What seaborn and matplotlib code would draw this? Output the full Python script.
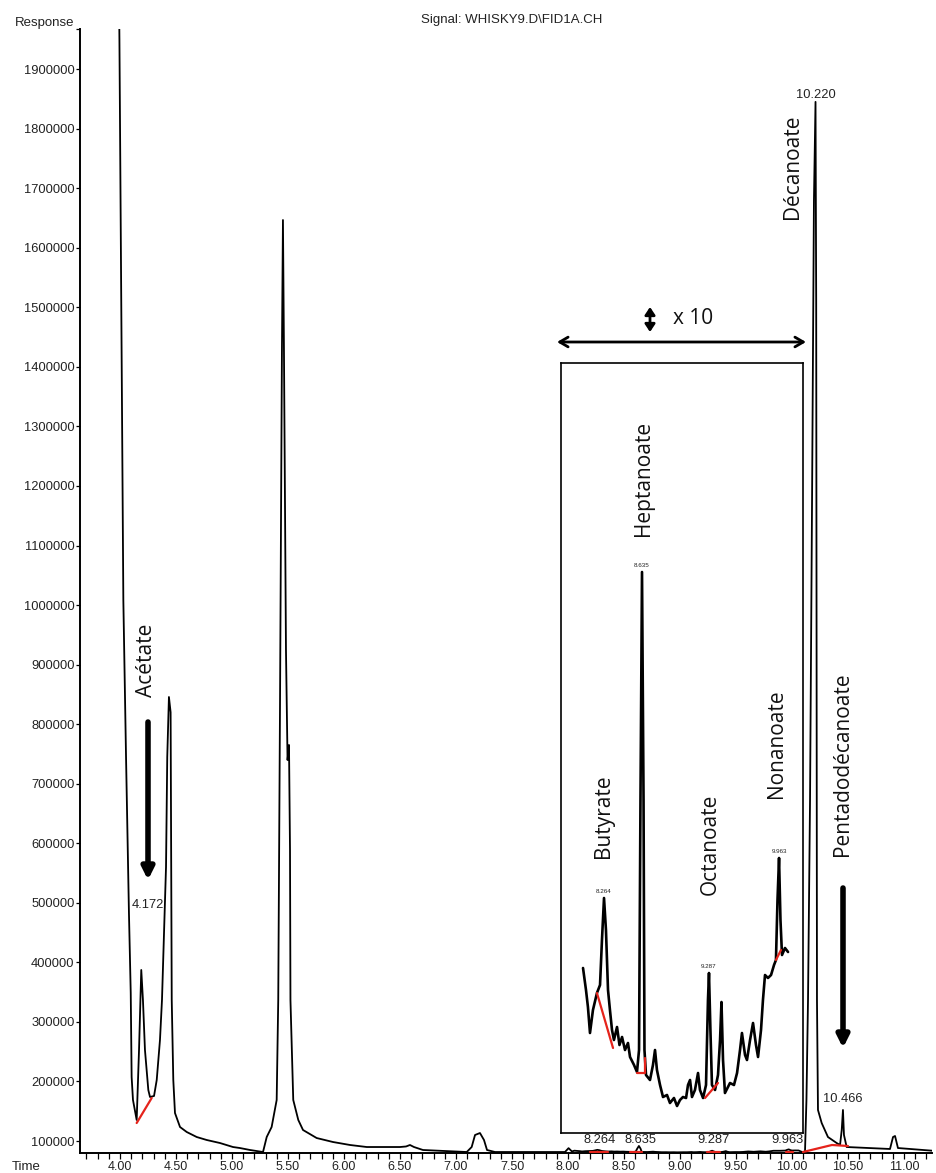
import matplotlib
matplotlib.use("Agg")
import matplotlib.pyplot as plt
import numpy as np
import pandas as pd
import seaborn as sns
from matplotlib.ticker import MultipleLocator, FixedLocator, FormatStrFormatter, FuncFormatter

# ---------------- data (retention time in min, detector response) ----------------
# part of the chromatogram before the magnified window
time_a = [3.985, 3.995, 4.005, 4.030, 4.054, 4.080, 4.096, 4.104, 4.116, 4.149,
          4.170, 4.190, 4.205, 4.223, 4.253, 4.268, 4.304, 4.328, 4.357, 4.375,
          4.402, 4.411, 4.422, 4.437, 4.452, 4.462, 4.476, 4.491, 4.536, 4.596,
          4.685, 4.774, 4.893, 5.009, 5.071, 5.161, 5.277, 5.310, 5.354, 5.399,
          5.413, 5.429, 5.446, 5.455, 5.464, 5.482, 5.496, 5.509, 5.518, 5.522,
          5.547, 5.592, 5.634, 5.756, 5.902, 6.054, 6.203, 6.500, 6.554, 6.589,
          6.625, 6.705, 7.096, 7.140, 7.170, 7.214, 7.250, 7.277, 7.348, 7.973,
          8.005, 8.035]
resp_a = [2150000, 1950000, 1680000, 1008000, 744900, 482900, 348500, 207500, 168900, 135300,
          252800, 387200, 336800, 252800, 185600, 173900, 175600, 202400, 269600, 336800,
          504700, 560100, 744900, 845600, 820000, 336800, 202400, 147000, 123500, 115100,
          106700, 101700, 96600, 89900, 88200, 84900, 81500, 106700, 123500, 168900,
          336800, 840600, 1428300, 1646600, 1428300, 924500, 739800, 765000, 588700, 336800,
          168900, 135300, 118500, 105000, 98300, 93300, 89900, 89900, 90800, 93300,
          89900, 84900, 81500, 89900, 110100, 113400, 101700, 84900, 81500, 81500,
          88000, 82500]

# magnified window 8.05 - 10.06 min (shown in the inset)
time_zoom = [8.057, 8.086, 8.105, 8.125, 8.154, 8.193, 8.223, 8.242, 8.262, 8.281,
             8.301, 8.320, 8.340, 8.359, 8.389, 8.413, 8.438, 8.467, 8.496, 8.516,
             8.555, 8.584, 8.604, 8.618, 8.633, 8.648, 8.657, 8.672, 8.711, 8.740,
             8.760, 8.779, 8.809, 8.838, 8.877, 8.906, 8.945, 8.975, 9.004, 9.033,
             9.063, 9.082, 9.102, 9.121, 9.150, 9.180, 9.199, 9.229, 9.258, 9.277,
             9.287, 9.301, 9.316, 9.346, 9.375, 9.395, 9.409, 9.424, 9.443, 9.492,
             9.531, 9.561, 9.590, 9.609, 9.639, 9.658, 9.688, 9.717, 9.746, 9.766,
             9.795, 9.814, 9.834, 9.863, 9.893, 9.922, 9.941, 9.956, 9.971, 9.985,
             10.000, 10.029, 10.059]
resp_zoom = [83740, 83300, 82960, 82440, 82900, 83240, 83400, 84300, 85140, 84500,
             83300, 82900, 82500, 82300, 82560, 82200, 82360, 82100, 82240, 81960,
             81800, 81660, 82100, 87100, 91660, 87100, 82100, 81600, 81500, 81800,
             82100, 81700, 81400, 81160, 81200, 81040, 81140, 80980, 81100, 81160,
             81140, 81400, 81500, 81160, 81300, 81640, 81300, 81140, 81400, 83100,
             83640, 82500, 81400, 81300, 81600, 82300, 83060, 81900, 81240, 81440,
             81400, 81640, 82100, 82440, 82000, 81900, 82300, 82640, 82200, 81960,
             82500, 83100, 83600, 83540, 83600, 83800, 83900, 85100, 85940, 84700,
             84000, 84140, 84060]

# part after the magnified window
time_b = [10.090, 10.116, 10.129, 10.143, 10.161, 10.179, 10.196, 10.210, 10.216, 10.220,
          10.223, 10.232, 10.265, 10.321, 10.399, 10.429, 10.444, 10.455, 10.464, 10.488,
          10.696, 10.875, 10.902, 10.920, 10.946, 11.286]
resp_b = [81500, 81500, 168900, 336800, 672600, 1176400, 1680200, 1845000, 1512300, 840600,
          336800, 152100, 130200, 106700, 96600, 93300, 118500, 152100, 110100, 89900,
          88200, 86600, 106700, 108400, 88200, 83200]

# integration baselines (red)
base_main_t = [[4.149, 4.283], [8.196, 8.357], [8.554, 8.660], [9.241, 9.357],
               [9.946, 10.009], [10.098, 10.357, 10.500]]
base_main_v = [[130200, 172200], [81500, 81500], [81500, 81500], [81500, 81500],
               [81500, 81500], [81500, 93300, 91600]]
base_zoom_t = [[8.193, 8.350], [8.584, 8.662, 8.662], [9.248, 9.375], [9.941, 9.990]]
base_zoom_v = [[83240, 82140], [81640, 81640, 81940], [81140, 81440], [83900, 84100]]

# labelled peaks
main_peak_labels = ["4.172", "10.220", "10.466"]
window_peak_labels = ["8.264", "8.635", "9.287", "9.963"]
window_peak_t = [8.262, 8.633, 9.287, 9.971]
window_peak_v = [85140, 91660, 83640, 85940]
compounds = ["Acétate", "Butyrate", "Heptanoate", "Octanoate", "Nonanoate",
             "Décanoate", "Pentadodécanoate"]

x_ticks = [4.0, 4.5, 5.0, 5.5, 6.0, 6.5, 7.0, 7.5, 8.0, 8.5, 9.0, 9.5, 10.0, 10.5, 11.0]
y_ticks = list(range(100000, 2000000, 100000))
y_top = 1967380
y_bottom = 79850

# ---------------- figure ----------------
sns.set_theme(style="white")
plt.rcParams["font.family"] = ["Liberation Sans", "DejaVu Sans"]

W, H = 936, 1173
fig = plt.figure(figsize=(W / 100, H / 100), dpi=100)
fig.patch.set_facecolor("white")


def fx(x):
    return x / W


def fy(y):
    return 1 - y / H


ax = fig.add_axes([fx(80), fy(1153), fx(932) - fx(80), fy(29) - fy(1153)])
ax.set_facecolor("white")

full = pd.DataFrame({"time": time_a + time_zoom + time_b,
                     "resp": resp_a + resp_zoom + resp_b})
sns.lineplot(data=full, x="time", y="resp", ax=ax, sort=False, estimator=None,
             color="black", lw=1.3)
for tt, vv in zip(base_main_t, base_main_v):
    ax.plot(tt, vv, color="#e5231b", lw=1.6, zorder=3)

ax.set_xlim(3.643, 11.25)
ax.set_ylim(y_bottom, y_top)
ax.set_xlabel("")
ax.set_ylabel("")
ax.xaxis.set_major_locator(FixedLocator(x_ticks))
ax.xaxis.set_minor_locator(MultipleLocator(0.1))
ax.xaxis.set_major_formatter(FormatStrFormatter("%.2f"))
ax.yaxis.set_major_locator(FixedLocator(y_ticks + [y_top]))
ax.yaxis.set_major_formatter(FuncFormatter(lambda v, p: "" if v > 1950000 else "%d" % v))
ax.tick_params(axis="x", which="both", direction="out", length=4.5, width=0.9,
               color="black", labelsize=9, labelcolor="#222222", pad=1.5, bottom=True)
ax.tick_params(axis="y", which="major", direction="out", length=3, width=0.9,
               color="black", labelsize=9.3, labelcolor="#222222", pad=1, left=True)
for s in ["top", "right"]:
    ax.spines[s].set_visible(False)
for s in ["left", "bottom"]:
    ax.spines[s].set_color("black")
    ax.spines[s].set_linewidth(1.4)

# peak labels on main trace
ax.text(4.25, 496300, main_peak_labels[0], ha="center", va="center", fontsize=9.3, color="#222")
ax.text(10.21, 1856500, main_peak_labels[1], ha="center", va="center", fontsize=9.3, color="#222")
ax.text(10.455, 170500, main_peak_labels[2], ha="center", va="center", fontsize=9.3, color="#222")
for lab, t in zip(window_peak_labels, [8.286, 8.643, 9.295, 9.964]):
    ax.text(t, 92000, lab, ha="center", va="bottom", fontsize=9.3, color="#222")

# axis captions and title
fig.text(fx(74), fy(26), "Response", ha="right", va="baseline", fontsize=9.5, color="#222")
fig.text(fx(12), fy(1167), "Time", ha="left", va="center", fontsize=9.5, color="#222")
fig.text(fx(512), fy(20), "Signal: WHISKY9.D\\FID1A.CH", ha="center", va="center",
         fontsize=9.5, color="#222")

# ---------------- inset (magnified window) ----------------
axi = fig.add_axes([fx(561), fy(1133), fx(803) - fx(561), fy(363) - fy(1133)])
axi.set_facecolor("white")
zoom_df = pd.DataFrame({"time": time_zoom, "resp": resp_zoom})
sns.lineplot(data=zoom_df, x="time", y="resp", ax=axi, sort=False, estimator=None,
             color="black", lw=1.9)
for tt, vv in zip(base_zoom_t, base_zoom_v):
    axi.plot(tt, vv, color="#e5231b", lw=1.6, zorder=3)
for lab, t, v in zip(window_peak_labels, window_peak_t, window_peak_v):
    axi.annotate(lab, (t, v), xytext=(0, 3), textcoords="offset points", ha="center",
                 va="bottom", fontsize=4.5, color="#222")
axi.set_xlim(7.842, 10.205)
axi.set_ylim(80440, 95840)
axi.set_xticks([])
axi.set_yticks([])
axi.set_xlabel("")
axi.set_ylabel("")
for s in axi.spines.values():
    s.set_visible(True)
    s.set_color("black")
    s.set_linewidth(1.2)

# ---------------- compound names and arrows ----------------
tkw = dict(rotation=90, ha="center", va="center", fontsize=15, color="#111",
           family=["Open Sans", "DejaVu Sans"])
pos = {"Acétate": (147, 660), "Butyrate": (604, 816), "Heptanoate": (643, 478),
       "Octanoate": (710, 844), "Nonanoate": (776, 744), "Décanoate": (792, 167),
       "Pentadodécanoate": (842, 764)}
for name in compounds:
    x, y = pos[name]
    fig.text(fx(x), fy(y), name, **tkw)

fig.text(fx(693), fy(318), "x 10", ha="center", va="center", fontsize=15, color="#111",
         family=["Open Sans", "DejaVu Sans"])


def arrow(x0, y0, x1, y1, style, lw):
    fig.add_artist(matplotlib.patches.FancyArrowPatch(
        (fx(x0), fy(y0)), (fx(x1), fy(y1)), transform=fig.transFigure,
        arrowstyle=style, lw=lw, color="black", shrinkA=0, shrinkB=0,
        mutation_scale=10))


arrow(148, 722, 148, 880, "-|>,head_length=0.7,head_width=0.35", 4.0)
arrow(843, 888, 843, 1048, "-|>,head_length=0.7,head_width=0.35", 4.0)
arrow(557, 342, 806, 342, "<->,head_length=0.6,head_width=0.35", 2.0)
arrow(650, 307, 650, 332, "<|-|>,head_length=0.45,head_width=0.3", 2.0)

fig.savefig("out.png", dpi=100, facecolor="white")
